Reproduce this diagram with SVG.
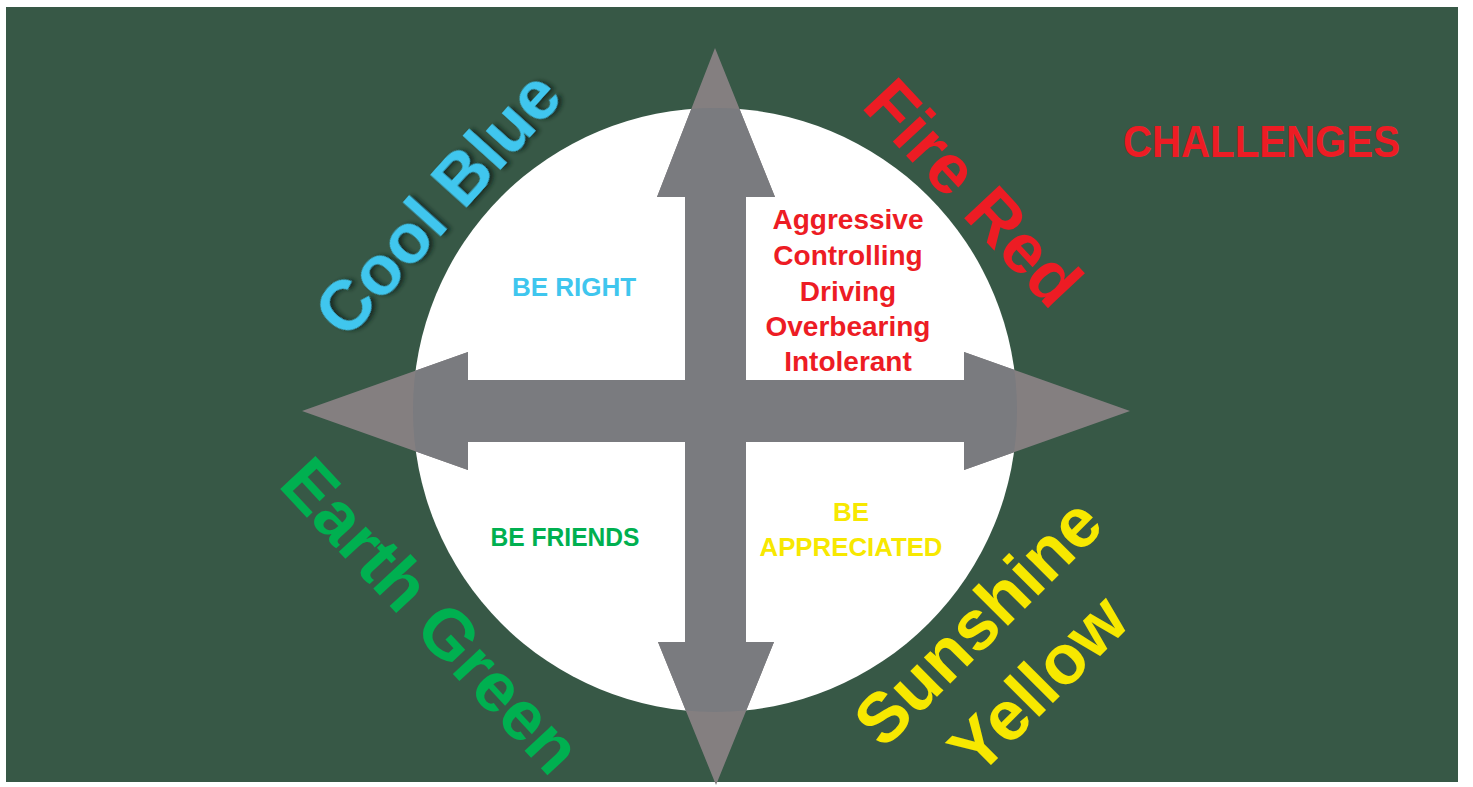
<svg xmlns="http://www.w3.org/2000/svg" width="1473" height="787" viewBox="0 0 1473 787">
<style>
.big{font-family:"Liberation Sans",Arial,sans-serif;font-weight:bold;font-size:70px;text-anchor:middle}
.mid{font-family:"Liberation Sans",Arial,sans-serif;font-weight:bold;font-size:26px;text-anchor:middle}
.red{font-family:"Liberation Sans",Arial,sans-serif;font-weight:bold;font-size:28px;text-anchor:middle;fill:#ed1c24}
.blue{fill:#3fc6ee}.green{fill:#00b050}.yellow{fill:#f7e800}.rd{fill:#ed1c24}
</style>
<defs>
<clipPath id="circ"><circle cx="715" cy="410" r="302"/></clipPath>
<filter id="sh" x="-20%" y="-20%" width="140%" height="140%">
<feDropShadow dx="3" dy="3" stdDeviation="2" flood-color="#0d2418" flood-opacity="0.8"/>
</filter>
<g id="arrowShapes">
<polygon points="715,48 775,197 746,197 746,642 774,642 716,785 658,642 685,642 685,197 657,197"/>
<polygon points="302,411 468,352 468,380 964,380 964,352 1130,411 964,470 964,442 468,442 468,470"/>
</g>
</defs>
<rect width="1473" height="787" fill="#ffffff"/>
<rect x="6" y="7" width="1452" height="775" fill="#375846"/>
<g id="circle"><circle cx="715" cy="410" r="302" fill="#ffffff"/></g>
<g id="connectors">
<use href="#arrowShapes" fill="#847f80"/>
<use href="#arrowShapes" fill="#7a7b7f" clip-path="url(#circ)"/>
</g>
<g id="cool-blue"><text class="big blue" filter="url(#sh)" transform="translate(437,203) rotate(-48)" y="25">Cool Blue</text></g>
<g id="fire-red"><text class="big rd" transform="translate(974,192) rotate(47)" y="25">Fire Red</text></g>
<g id="earth-green"><text class="big green" transform="translate(432,615) rotate(47)" y="25">Earth Green</text></g>
<g id="sunshine-yellow">
<text class="big yellow" transform="translate(978,622) rotate(-45)" y="24" font-size="66">Sunshine</text>
<text class="big yellow" transform="translate(1038,684) rotate(-45)" y="24" font-size="68">Yellow</text>
</g>
<g id="challenges"><text x="1123" y="157" font-family="Liberation Sans, Arial, sans-serif" font-weight="bold" font-size="44" fill="#ed1c24" textLength="277" lengthAdjust="spacingAndGlyphs">CHALLENGES</text></g>
<g id="be-right"><text class="mid blue" x="574" y="296">BE RIGHT</text></g>
<g id="be-friends"><text class="mid green" x="565" y="546" textLength="149" lengthAdjust="spacingAndGlyphs">BE FRIENDS</text></g>
<g id="be-appreciated">
<text class="mid yellow" x="851" y="521">BE</text>
<text class="mid yellow" x="851" y="556" textLength="183" lengthAdjust="spacingAndGlyphs">APPRECIATED</text>
</g>
<g id="red-traits">
<text class="red" x="848" y="229">Aggressive</text>
<text class="red" x="848" y="265">Controlling</text>
<text class="red" x="848" y="301">Driving</text>
<text class="red" x="848" y="336">Overbearing</text>
<text class="red" x="848" y="371">Intolerant</text>
</g>
</svg>
